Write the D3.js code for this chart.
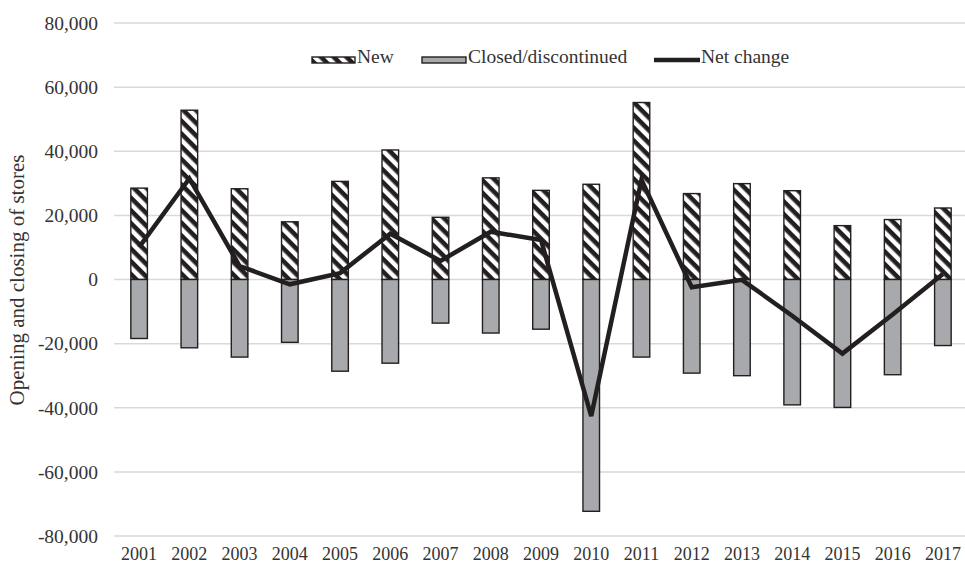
<!DOCTYPE html>
<html>
<head>
<meta charset="utf-8">
<script src="https://cdn.jsdelivr.net/npm/d3@7"></script>
<style>
  body { margin: 0; background: #fff; }
  svg { display: block; font-family: "Liberation Serif", "Times New Roman", serif; }
</style>
</head>
<body>
<svg width="965" height="567"></svg>
<script>
// chart data
const years = ["2001", "2002", "2003", "2004", "2005", "2006", "2007", "2008", "2009",
               "2010", "2011", "2012", "2013", "2014", "2015", "2016", "2017"];
const newStores = [28500, 52800, 28300, 18000, 30600, 40400, 19400, 31700, 27800,
                   29700, 55200, 26800, 29900, 27700, 16800, 18700, 22300];
const closedStores = [-18400, -21300, -24200, -19600, -28600, -26100, -13600, -16700, -15500,
                      -72300, -24200, -29200, -30000, -39100, -39900, -29700, -20600];
const netChange = [10100, 31500, 4200, -1500, 2000, 14300, 5800, 14900, 12300,
                   -42600, 31100, -2400, -100, -11300, -23100, -10900, 1700];
const yTicks = [-80000, -60000, -40000, -20000, 0, 20000, 40000, 60000, 80000];
const legendItems = ["New", "Closed/discontinued", "Net change"];

var svg = d3.select('svg');
var ink = "#231f20";

var xScale = d3.scaleBand()
    .domain(years)
    .range([114, 968])
    .paddingInner(0.67)
    .paddingOuter(0.335);

var yScale = d3.scaleLinear()
    .domain([-80000, 80000])
    .range([536, 23]);

// hatch pattern for new stores
var defs = svg.append("defs");
var pat = defs.append("pattern")
    .attr("id", "hatch")
    .attr("patternUnits", "userSpaceOnUse")
    .attr("width", 9)
    .attr("height", 9)
    .attr("patternTransform", "rotate(45)");
pat.append("rect").attr("width", 9).attr("height", 9).attr("fill", "#fff");
pat.append("rect").attr("width", 9).attr("height", 4.6).attr("fill", ink);

// gridlines
svg.append("g")
    .selectAll("line")
    .data(yTicks)
    .enter()
    .append("line")
    .attr("x1", 114)
    .attr("x2", 965)
    .attr("y1", d => yScale(d))
    .attr("y2", d => yScale(d))
    .attr("stroke", "#d9d9d9")
    .attr("stroke-width", 1.5);

// y tick labels
svg.append("g")
    .selectAll("text")
    .data(yTicks)
    .enter()
    .append("text")
    .attr("x", 98)
    .attr("y", d => yScale(d))
    .attr("dy", "0.35em")
    .attr("text-anchor", "end")
    .style("font-size", "19.5px")
    .attr("fill", "#333")
    .text(d => d3.format(",")(d).replace("−", "-"));

// year labels
svg.append("g")
    .selectAll("text")
    .data(years)
    .enter()
    .append("text")
    .attr("x", d => xScale(d) + xScale.bandwidth() / 2)
    .attr("y", 560)
    .attr("text-anchor", "middle")
    .style("font-size", "18px")
    .attr("fill", "#333")
    .text(d => d);

// y title
svg.append("text")
    .attr("transform", "translate(24, 280)rotate(-90)")
    .attr("text-anchor", "middle")
    .style("font-size", "21px")
    .attr("fill", "#333")
    .text("Opening and closing of stores");

// new bars
svg.append("g")
    .selectAll("rect")
    .data(years)
    .enter()
    .append("rect")
    .attr("x", d => xScale(d))
    .attr("y", (d, i) => yScale(newStores[i]))
    .attr("width", xScale.bandwidth())
    .attr("height", (d, i) => yScale(0) - yScale(newStores[i]))
    .attr("fill", "url(#hatch)")
    .attr("stroke", ink)
    .attr("stroke-width", 1.4);

// closed bars
svg.append("g")
    .selectAll("rect")
    .data(years)
    .enter()
    .append("rect")
    .attr("x", d => xScale(d))
    .attr("y", yScale(0))
    .attr("width", xScale.bandwidth())
    .attr("height", (d, i) => yScale(closedStores[i]) - yScale(0))
    .attr("fill", "#a7a9ac")
    .attr("stroke", ink)
    .attr("stroke-width", 1.4);

// net change line
var line = d3.line()
    .x((d, i) => xScale(years[i]) + xScale.bandwidth() / 2)
    .y(d => yScale(d));

svg.append("path")
    .datum(netChange)
    .attr("d", line)
    .attr("fill", "none")
    .attr("stroke", ink)
    .attr("stroke-width", 4.5)
    .attr("stroke-linejoin", "miter");

// legend
var legend = svg.append("g");
legend.append("rect")
    .attr("x", 312).attr("y", 57).attr("width", 43).attr("height", 6)
    .attr("fill", "url(#hatch)").attr("stroke", ink).attr("stroke-width", 1.4);
legend.append("text")
    .attr("x", 357).attr("y", 63)
    .style("font-size", "19.5px").attr("fill", "#333")
    .text(legendItems[0]);

legend.append("rect")
    .attr("x", 422).attr("y", 57).attr("width", 44).attr("height", 6)
    .attr("fill", "#a7a9ac").attr("stroke", ink).attr("stroke-width", 1.4);
legend.append("text")
    .attr("x", 468).attr("y", 63)
    .style("font-size", "19.5px").attr("fill", "#333")
    .text(legendItems[1]);

legend.append("line")
    .attr("x1", 654).attr("x2", 700).attr("y1", 60).attr("y2", 60)
    .attr("stroke", ink).attr("stroke-width", 4.5);
legend.append("text")
    .attr("x", 701).attr("y", 63)
    .style("font-size", "19.5px").attr("fill", "#333")
    .text(legendItems[2]);
</script>
</body>
</html>
